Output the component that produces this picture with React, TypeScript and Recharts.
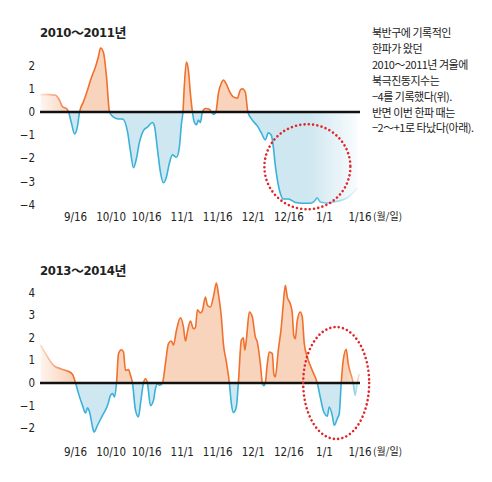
import React from 'react';
import { ComposedChart, Area, XAxis, YAxis, ReferenceLine, ReferenceArea, ReferenceDot } from 'recharts';

const FONT = "'Liberation Sans Narrow', 'DejaVu Sans Condensed', 'Noto Sans CJK KR', sans-serif";
const KFONT = "'Noto Sans CJK KR', sans-serif";

const tickLabels = ['9/16', '10/10', '10/16', '11/1', '11/16', '12/1', '12/16', '1/1', '1/16'];
const tickPos = [0, 1, 2, 3, 4, 5, 6, 7, 8];
const yTicksTop = [2, 1, 0, -1, -2, -3, -4];
const yTicksBottom = [4, 3, 2, 1, 0, -1, -2];

// 2010~2011 (x in tick units: 0 = 9/16 ... 8 = 1/16)
const dates1011 = [
  -0.983, -0.758, -0.562, -0.449, -0.365, -0.253, -0.197, -0.112, -0.028, 0.056, 0.112,
  0.225, 0.337, 0.449, 0.562, 0.646, 0.702, 0.787, 0.871, 0.955,
  1.067, 1.208, 1.32, 1.461, 1.545, 1.629, 1.713, 1.798, 1.91, 2.022, 2.163, 2.219,
  2.303, 2.388, 2.472, 2.556, 2.64, 2.725, 2.837, 2.921, 2.978, 3.02,
  3.062, 3.118, 3.174, 3.23, 3.287, 3.343, 3.399, 3.455, 3.511, 3.567,
  3.652, 3.764, 3.82, 3.876, 3.947, 4.017, 4.101, 4.157, 4.242, 4.326, 4.438, 4.551,
  4.635, 4.691, 4.775, 4.846, 4.972, 5.112, 5.225, 5.337, 5.421, 5.506, 5.562, 5.618,
  5.674, 5.758, 5.843, 5.983, 6.067, 6.18, 6.376, 6.601, 6.713, 6.798, 6.882, 7.079,
  7.36, 7.64, 7.921,
];
const values1011 = [
  0.75, 0.75, 0.72, 0.5, 0.22, 0.15, 0, -0.5, -0.95, -0.6, 0,
  0.45, 0.95, 1.5, 1.95, 2.4, 2.76, 2.55, 1.5, 0,
  -0.22, -0.3, -0.3, -0.85, -1.7, -2.4, -2.0, -1.3, -0.8, -0.65, -0.45, -0.6,
  -1.6, -2.6, -3.05, -2.8, -2.2, -1.85, -1.95, -1.5, -0.5, 0,
  1.2, 2.15, 1.8, 0.8, 0, -0.45, -0.55, -0.35, -0.45, 0,
  0.15, 0.12, 0, -0.1, 0, 0.8, 1.25, 1.38, 1.2, 0.9, 0.65, 0.6,
  0.95, 1.0, 0.85, 0, -0.35, -0.6, -0.9, -1.2, -0.9, -1.0, -1.5, -2.3,
  -2.9, -3.5, -3.75, -3.75, -3.8, -3.9, -3.93, -3.93, -3.85, -3.7, -3.88, -3.92,
  -3.85, -3.7, -3.3,
];

// 2013~2014
const dates1314 = [
  -0.983, -0.787, -0.618, -0.421, -0.225, -0.084, 0, 0.084, 0.197, 0.281, 0.337, 0.393,
  0.478, 0.52, 0.618, 0.758, 0.899, 0.983, 1.039, 1.096, 1.152, 1.208, 1.292, 1.348,
  1.404, 1.489, 1.545, 1.601, 1.685, 1.77, 1.826, 1.91, 1.966, 2.022, 2.107, 2.191,
  2.247, 2.303, 2.36, 2.444, 2.528, 2.612, 2.697, 2.753, 2.837, 2.949, 3.034, 3.09,
  3.146, 3.23, 3.315, 3.371, 3.427, 3.511, 3.567, 3.652, 3.708, 3.792, 3.876, 3.961,
  4.017, 4.101, 4.157, 4.242, 4.326, 4.382, 4.438, 4.522, 4.579, 4.663, 4.719, 4.761,
  4.803, 4.888, 4.972, 5.056, 5.112, 5.197, 5.253, 5.295, 5.337, 5.393, 5.449, 5.534,
  5.576, 5.618, 5.702, 5.787, 5.843, 5.899, 5.955, 6.039, 6.096, 6.138, 6.18, 6.236,
  6.32, 6.376, 6.433, 6.517, 6.657, 6.798, 6.882, 6.966, 7.079, 7.135, 7.219, 7.275,
  7.36, 7.416, 7.472, 7.528, 7.612, 7.669, 7.781, 7.809, 7.865, 7.921, 7.978,
];
const values1314 = [
  1.67, 1.15, 0.78, 0.63, 0.53, 0.38, 0, -0.47, -1.0, -1.33, -1.1, -1.28,
  -1.95, -2.17, -1.87, -1.43, -1.0, -0.55, -0.47, -0.62, 0, 1.3, 1.47, 1.37,
  0.56, 0.59, 0.34, 0, -1.2, -1.5, -0.91, 0, 0.19, 0, -1.0, -0.77,
  -0.25, -0.03, -0.1, 0, 0.86, 1.74, 1.86, 1.67, 2.33, 2.88, 2.48, 1.86,
  2.26, 2.74, 2.4, 2.45, 3.24, 3.1, 3.2, 3.8, 3.44, 3.36, 3.8, 4.42,
  3.95, 2.92, 1.74, 0.93, 0, -0.91, -1.31, -1.06, 0, 1.9, 2.0, 1.45,
  1.9, 3.14, 2.92, 2.04, 1.81, 0.86, 0, -0.12, 0, 0.86, 1.37, 1.3,
  0.41, 0.27, 1.45, 2.48, 3.51, 4.32, 3.8, 3.51, 3.07, 2.1, 1.96, 2.77,
  3.14, 2.92, 1.74, 1.15, 0.56, 0, -0.62, -1.21, -1.47, -1.06, -1.43, -1.87,
  -1.58, -1.36, 0, 1.0, 1.49, 0.86, 0.19, 0, -0.55, 0, 0.4,
];

const ORANGE = '#f0702c';
const ORANGE_FILL = '#f9d4bd';
const BLUE = '#3ab1da';
const BLUE_FILL = '#cfe7f0';
const RED = '#e0262a';

const fmtY = (v: number) => (v < 0 ? '\u2212' + Math.abs(v) : String(v));

const XTick = (props: any) => {
  const { x, y, payload } = props;
  const i = payload.value as number;
  return (
    <g>
      <text x={x} y={y} dy="0.71em" textAnchor="middle" fontSize={11.5} fill="#222" fontFamily={FONT}>
        {tickLabels[i]}
      </text>
      {i === 8 && (
        <text x={x + 13} y={y} dy="0.71em" textAnchor="start" fontSize={10} fill="#222" fontFamily={KFONT}>
          (월/일)
        </text>
      )}
    </g>
  );
};

type Fade = { x1: number; x2: number; from: number; to: number };

type PanelProps = {
  id: string;
  dates: number[];
  values: number[];
  yDomain: [number, number];
  yTicks: number[];
  marginTop: number;
  marginBottom: number;
  fades: Fade[];
  marker: { x: number; y: number; rx: number; ry: number };
};

const Panel = ({ id, dates, values, yDomain, yTicks, marginTop, marginBottom, fades, marker }: PanelProps) => {
  const data = dates.map((x, k) => ({ x, v: values[k] }));
  const max = Math.max(...values);
  const min = Math.min(...values);
  const off = max / (max - min);
  return (
    <ComposedChart
      width={492}
      height={240}
      data={data}
      margin={{ top: marginTop, right: 132, bottom: marginBottom, left: 0 }}
    >
      <defs>
        <linearGradient id={`${id}-stroke`} x1="0" y1="0" x2="0" y2="1">
          <stop offset={off} stopColor={ORANGE} />
          <stop offset={off} stopColor={BLUE} />
        </linearGradient>
        <linearGradient id={`${id}-fill`} x1="0" y1="0" x2="0" y2="1">
          <stop offset={off} stopColor={ORANGE_FILL} />
          <stop offset={off} stopColor={BLUE_FILL} />
        </linearGradient>
        {fades.map((f, k) => (
          <linearGradient key={k} id={`${id}-fade${k}`} x1="0" y1="0" x2="1" y2="0">
            <stop offset="0" stopColor="#ffffff" stopOpacity={f.from} />
            <stop offset="1" stopColor="#ffffff" stopOpacity={f.to} />
          </linearGradient>
        ))}
      </defs>
      <XAxis
        type="number"
        dataKey="x"
        domain={[-1, 8]}
        ticks={tickPos}
        interval={0}
        allowDataOverflow
        axisLine={false}
        tickLine={false}
        tickSize={0}
        tickMargin={8}
        height={30}
        tick={<XTick />}
      />
      <YAxis
        type="number"
        domain={yDomain}
        ticks={yTicks}
        interval={0}
        allowDataOverflow
        axisLine={false}
        tickLine={false}
        tickSize={0}
        tickMargin={5}
        width={40}
        tickFormatter={fmtY}
        tick={{ fill: '#222', fontSize: 11.5, fontFamily: FONT }}
      />
      <Area
        type="monotone"
        dataKey="v"
        baseValue={0}
        stroke={`url(#${id}-stroke)`}
        strokeWidth={1.6}
        fill={`url(#${id}-fill)`}
        fillOpacity={1}
        dot={false}
        activeDot={false}
        isAnimationActive={false}
      />
      {fades.map((f, k) => (
        <ReferenceArea
          key={k}
          x1={f.x1}
          x2={f.x2}
          fill={`url(#${id}-fade${k})`}
          fillOpacity={1}
          stroke="none"
          ifOverflow="visible"
          zIndex={450}
        />
      ))}
      <ReferenceLine y={0} stroke="#111" strokeWidth={2.5} zIndex={460} />
      <ReferenceDot
        x={marker.x}
        y={marker.y}
        r={marker.rx}
        ifOverflow="visible"
        zIndex={470}
        shape={(p: any) => (
          <ellipse
            cx={p.cx}
            cy={p.cy}
            rx={marker.rx}
            ry={marker.ry}
            fill="none"
            stroke={RED}
            strokeWidth={2.6}
            strokeDasharray="0.01 4.3"
            strokeLinecap="round"
          />
        )}
      />
    </ComposedChart>
  );
};

const notes = [
  '북반구에 기록적인',
  '한파가 왔던',
  '2010～2011년 겨울에',
  '북극진동지수는',
  '−4를 기록했다(위).',
  '반면 이번 한파 때는',
  '−2～+1로 타났다(아래).',
];

const titleStyle: React.CSSProperties = {
  position: 'absolute',
  left: 40,
  fontFamily: FONT,
  fontWeight: 700,
  fontSize: 13,
  color: '#222',
  lineHeight: '18px',
  whiteSpace: 'nowrap',
  letterSpacing: -0.4,
};

export default function App() {
  return (
    <div style={{ position: 'absolute', left: 0, top: 0, width: 492, height: 482, background: '#fff', overflow: 'hidden' }}>
      <div style={{ position: 'absolute', left: 0, top: 0 }}>
        <Panel
          id="p1"
          dates={dates1011}
          values={values1011}
          yDomain={[-4, 3]}
          yTicks={yTicksTop}
          marginTop={42.4}
          marginBottom={5.2}
          fades={[
            { x1: -1, x2: -0.2, from: 0.8, to: 0 },
            { x1: 6.55, x2: 8, from: 0, to: 0.92 },
          ]}
          marker={{ x: 6.52, y: -2.36, rx: 43, ry: 42.5 }}
        />
      </div>
      <div style={{ position: 'absolute', left: 0, top: 240 }}>
        <Panel
          id="p2"
          dates={dates1314}
          values={values1314}
          yDomain={[-2.5, 4.6]}
          yTicks={yTicksBottom}
          marginTop={39.04}
          marginBottom={10.5}
          fades={[
            { x1: -1, x2: -0.15, from: 0.75, to: 0 },
            { x1: 7.65, x2: 8, from: 0, to: 0.8 },
          ]}
          marker={{ x: 7.33, y: 0, rx: 33, ry: 56 }}
        />
      </div>
      <div style={{ ...titleStyle, top: 24 }}>2010～2011년</div>
      <div style={{ ...titleStyle, top: 262 }}>2013～2014년</div>
      <div
        style={{
          position: 'absolute',
          left: 372,
          top: 25,
          fontFamily: KFONT,
          fontSize: 11,
          color: '#222',
          lineHeight: '15.9px',
          letterSpacing: -0.5,
          whiteSpace: 'nowrap',
        }}
      >
        {notes.map((t, k) => (
          <div key={k}>{t}</div>
        ))}
      </div>
    </div>
  );
}
